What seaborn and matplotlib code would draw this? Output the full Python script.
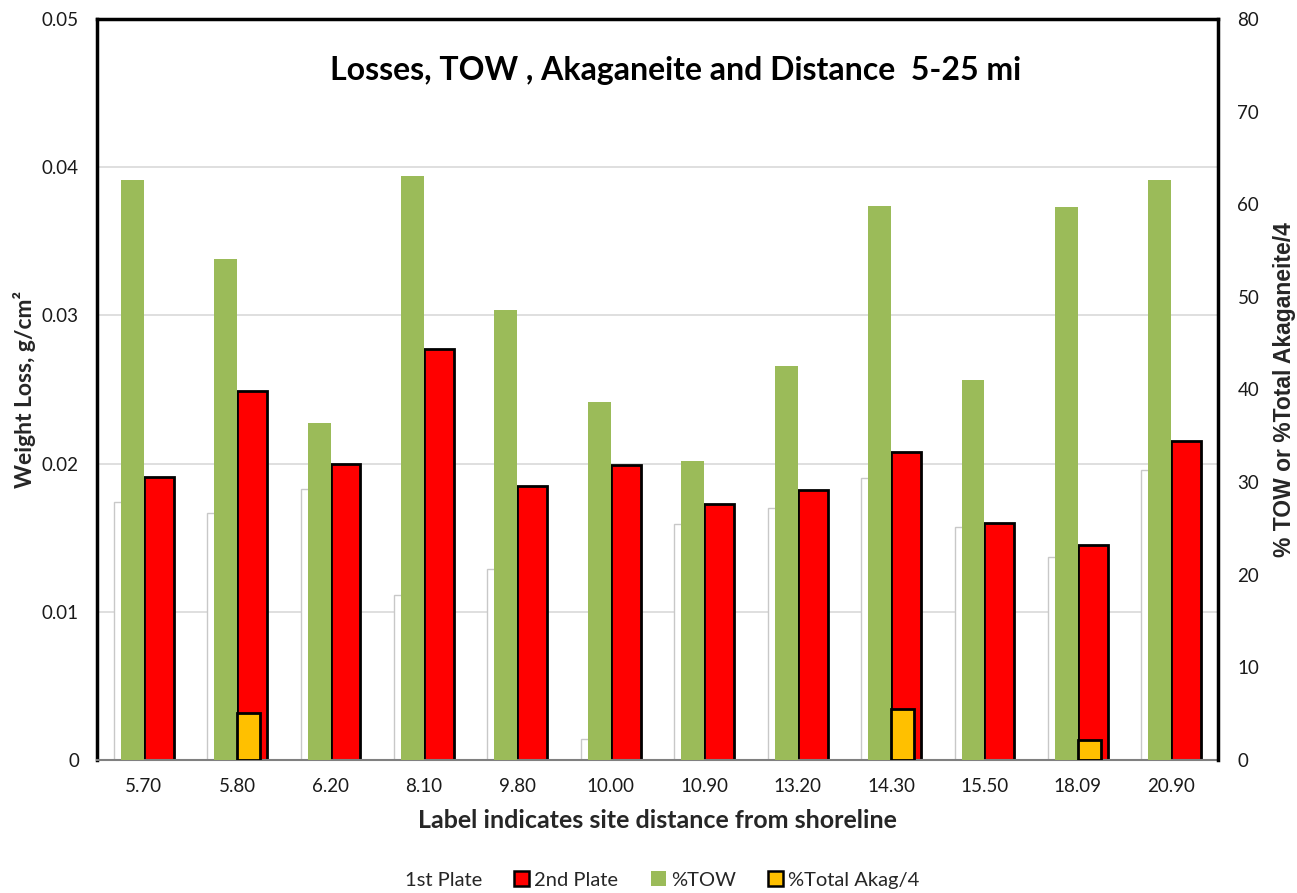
import matplotlib
matplotlib.use("Agg")
import matplotlib.pyplot as plt
import seaborn as sns
import pandas as pd
from matplotlib.patches import Patch
from matplotlib.ticker import FuncFormatter, MultipleLocator

# ---- data ----
distances = ["5.70", "5.80", "6.20", "8.10", "9.80", "10.00",
             "10.90", "13.20", "14.30", "15.50", "18.09", "20.90"]
plate1 = [0.0174, 0.0167, 0.0183, 0.0111, 0.0129, 0.0014,
          0.0159, 0.0170, 0.0190, 0.0157, 0.0137, 0.0196]
plate2 = [0.0191, 0.0249, 0.0200, 0.0277, 0.0185, 0.0199,
          0.0173, 0.0182, 0.0208, 0.0160, 0.0145, 0.0215]
tow = [62.6, 54.1, 36.4, 63.1, 48.6, 38.7,
       32.3, 42.5, 59.8, 41.0, 59.7, 62.6]
akag4 = [0, 5.1, 0, 0, 0, 0,
         0, 0, 5.5, 0, 2.2, 0]

title = "Losses, TOW , Akaganeite and Distance  5-25 mi"
xlabel = "Label indicates site distance from shoreline"
ylabel_left = "Weight Loss, g/cm²"
ylabel_right = "% TOW or %Total Akaganeite/4"
series_names = ["1st Plate", "2nd Plate", "%TOW", "%Total Akag/4"]

# ---- styling ----
sns.set_theme(style="white")
plt.rcParams["font.family"] = ["Lato", "DejaVu Sans"]

WHITE_EDGE = "#C8C8C8"
RED = "#FF0000"
GREEN = "#9BBB59"
ORANGE = "#FFC000"
GRID = "#D9D9D9"
TICKCOL = "#1a1a1a"

fig = plt.figure(figsize=(12.97, 8.93), dpi=100)
ax = fig.add_axes([97 / 1297, 1 - 760 / 893, (1218 - 97) / 1297, (760 - 19) / 893])
ax2 = ax.twinx()

prim = pd.DataFrame({
    "dist": distances * 2,
    "val": plate1 + plate2,
    "series": [series_names[0]] * len(distances) + [series_names[1]] * len(distances),
})
sec = pd.DataFrame({
    "dist": distances * 2,
    "val": tow + akag4,
    "series": [series_names[2]] * len(distances) + [series_names[3]] * len(distances),
})

sns.barplot(data=prim, x="dist", y="val", hue="series", order=distances,
            hue_order=series_names[:2], width=0.64, dodge=True, errorbar=None,
            ax=ax, legend=False, palette=["white", RED], saturation=1)
sns.barplot(data=sec, x="dist", y="val", hue="series", order=distances,
            hue_order=series_names[2:], width=0.49, dodge=True, errorbar=None,
            ax=ax2, legend=False, palette=[GREEN, ORANGE], saturation=1)

# bar edges
for bar in ax.containers[0]:
    bar.set_edgecolor(WHITE_EDGE); bar.set_linewidth(1.0); bar.set_facecolor("white")
for bar in ax.containers[1]:
    bar.set_edgecolor("black"); bar.set_linewidth(2.0)
for bar in ax2.containers[0]:
    bar.set_edgecolor("none"); bar.set_linewidth(0)
for bar, v in zip(ax2.containers[1], akag4):
    bar.set_edgecolor("black"); bar.set_linewidth(2.0)
    if v == 0:
        bar.set_visible(False)

# axes limits & ticks
ax.set_xlim(-0.5, len(distances) - 0.5)
ax.set_ylim(0, 0.05)
ax2.set_ylim(0, 80)
ax.yaxis.set_major_locator(MultipleLocator(0.01))
ax2.yaxis.set_major_locator(MultipleLocator(10))
ax.yaxis.set_major_formatter(FuncFormatter(lambda v, p: "0" if abs(v) < 1e-9 else f"{v:.2f}"))
ax2.yaxis.set_major_formatter(FuncFormatter(lambda v, p: f"{v:.0f}"))

ax.grid(axis="y", color=GRID, linewidth=1.2)
ax.grid(axis="x", visible=False)
ax2.grid(False)
ax.set_axisbelow(True)

ax.tick_params(axis="y", length=0, pad=13, labelsize=13.5, labelcolor=TICKCOL)
ax.tick_params(axis="x", length=0, pad=13, labelsize=13.5, labelcolor=TICKCOL)
ax2.tick_params(axis="y", length=0, pad=14, labelsize=13.5, labelcolor=TICKCOL)

# spines
for s in ["left", "top"]:
    ax.spines[s].set_color("black"); ax.spines[s].set_linewidth(2.5); ax.spines[s].set_visible(True)
ax.spines["right"].set_visible(False)
ax.spines["bottom"].set_color("#808080"); ax.spines["bottom"].set_linewidth(1.5)
for s in ["left", "top", "bottom"]:
    ax2.spines[s].set_visible(False)
ax2.spines["right"].set_color("black"); ax2.spines["right"].set_linewidth(2.5); ax2.spines["right"].set_visible(True)

# labels
ax.set_xlabel(xlabel, fontsize=18, fontweight="bold", labelpad=10)
ax.set_ylabel(ylabel_left, fontsize=16.5, fontweight="bold", labelpad=4)
ax2.set_ylabel(ylabel_right, fontsize=16.5, fontweight="bold", labelpad=10, rotation=90,
               family=["Liberation Sans", "DejaVu Sans"])
ax2.yaxis.set_label_position("right")

ax.text(0.516, 0.931, title, transform=ax.transAxes, ha="center", va="center",
        fontsize=23, fontweight="bold", color="black")

# legend
handles = [
    Patch(facecolor="white", edgecolor="white", label=series_names[0]),
    Patch(facecolor=RED, edgecolor="black", linewidth=1.8, label=series_names[1]),
    Patch(facecolor=GREEN, edgecolor="none", label=series_names[2]),
    Patch(facecolor=ORANGE, edgecolor="black", linewidth=1.8, label=series_names[3]),
]
fig.legend(handles=handles, loc="center", bbox_to_anchor=(652 / 1297, 1 - 880 / 893),
           ncol=4, frameon=False, fontsize=14.5, handlelength=0.75, handleheight=0.75,
           handletextpad=0.25, columnspacing=1.6)

fig.savefig("out.png", dpi=100)
